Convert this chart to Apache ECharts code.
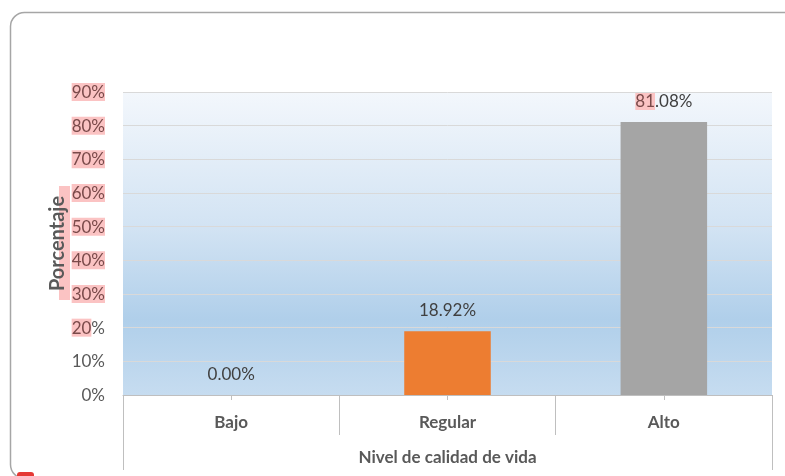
<!DOCTYPE html>
<html><head><meta charset="utf-8">
<script src="https://cdn.jsdelivr.net/npm/echarts@6/dist/echarts.min.js"></script>
<style>html,body{margin:0;padding:0;background:#fff}#c{width:785px;height:476px}</style>
</head><body><div id="c"></div>
<script>
const categories = ['Bajo', 'Regular', 'Alto'];
const values = [0.00, 18.92, 81.08];
const barColors = ['#5b9bd5', '#ed7d31', '#a5a5a5'];
const yMin = 0, yMax = 90, yStep = 10;
const yTitle = 'Porcentaje';
const xTitle = 'Nivel de calidad de vida';
// pink highlight marks in the reference: number of leading characters highlighted
const tickHighlight = {20: 2, 30: 3, 40: 3, 50: 3, 60: 3, 70: 3, 80: 3, 90: 3};
const labelHighlight = [0, 0, 2];

const FONT = 'Lato';
const TXT = '#595959';
const PINK = '#fbc3c3';

function hl(s, n, normal) {
  let out = '';
  if (n > 0) out += '{h|' + s.slice(0, n) + '}';
  if (s.length > n) out += '{' + normal + '|' + s.slice(n) + '}';
  return out;
}

const chart = echarts.init(document.getElementById('c'));
chart.setOption({
  animation: false,
  textStyle: {fontFamily: FONT},
  graphic: [
    {type: 'rect', z: 100, shape: {x: 10.5, y: 12.5, width: 800, height: 466, r: 14},
     style: {fill: 'none', stroke: '#a6a6a6', lineWidth: 1.5}},
    {type: 'rect', z: 100, shape: {x: 17, y: 472, width: 17, height: 8, r: 3},
     style: {fill: '#e53935'}},
    {type: 'rect', z: -1, shape: {x: 59, y: 186, width: 11, height: 114},
     style: {fill: PINK}}
  ],
  grid: {
    left: 123, right: 13, top: 92, bottom: 81,
    show: true, borderWidth: 0,
    backgroundColor: new echarts.graphic.LinearGradient(0, 0, 0, 1, [
      {offset: 0, color: '#f3f7fc'},
      {offset: 0.45, color: '#d2e3f3'},
      {offset: 0.75, color: '#b0cfea'},
      {offset: 1, color: '#c6dcf0'}
    ])
  },
  yAxis: {
    type: 'value', min: yMin, max: yMax, interval: yStep,
    name: yTitle, nameLocation: 'middle', nameGap: 55, nameMoveOverlap: false,
    nameTextStyle: {fontFamily: FONT, fontWeight: 'bold', fontSize: 20, color: TXT},
    axisLine: {show: false}, axisTick: {show: false},
    splitLine: {show: true, lineStyle: {color: '#d9d9d9', width: 1}},
    axisLabel: {
      margin: 18,
      formatter: v => hl(v + '%', tickHighlight[v] || 0, 'n'),
      rich: {
        h: {backgroundColor: PINK, color: '#7a4a4a', fontSize: 17, fontFamily: FONT, lineHeight: 21, padding: [1, 0, 0, 0]},
        n: {color: TXT, fontSize: 17, fontFamily: FONT, lineHeight: 21, padding: [1, 0, 0, 0]}
      }
    }
  },
  xAxis: [
    {
      type: 'category', data: categories, position: 'bottom',
      axisLine: {show: true, lineStyle: {color: '#bfbfbf', width: 1}},
      axisTick: {show: true, inside: false, interval: 0, alignWithLabel: false, length: 40, lineStyle: {color: '#bfbfbf', width: 1}},
      axisLabel: {margin: 19, fontFamily: FONT, fontWeight: 'bold', fontSize: 17, color: TXT}
    },
    {
      type: 'category', data: [xTitle], position: 'bottom',
      axisLine: {show: false},
      axisTick: {show: true, inside: false, interval: 0, alignWithLabel: false, length: 75, lineStyle: {color: '#bfbfbf', width: 1}},
      axisLabel: {margin: 54, fontFamily: FONT, fontWeight: 'bold', fontSize: 17, color: TXT}
    },
    {
      type: 'category', data: categories, position: 'bottom',
      axisLine: {show: false},
      axisTick: {show: true, inside: false, alignWithLabel: true, interval: 0, length: 5, lineStyle: {color: '#bfbfbf', width: 1}},
      axisLabel: {show: false}
    }
  ],
  series: [{
    type: 'bar', xAxisIndex: 0,
    barWidth: '40%',
    data: values.map((v, i) => ({value: v, itemStyle: {color: barColors[i]}})),
    label: {
      show: true, position: 'top', distance: 10,
      formatter: p => hl(p.value.toFixed(2) + '%', labelHighlight[p.dataIndex], 'n'),
      rich: {
        h: {backgroundColor: PINK, color: '#7a4a4a', fontSize: 17, fontFamily: FONT, lineHeight: 21},
        n: {color: '#404040', fontSize: 17, fontFamily: FONT, lineHeight: 21}
      }
    }
  }]
});
</script>
</body></html>
